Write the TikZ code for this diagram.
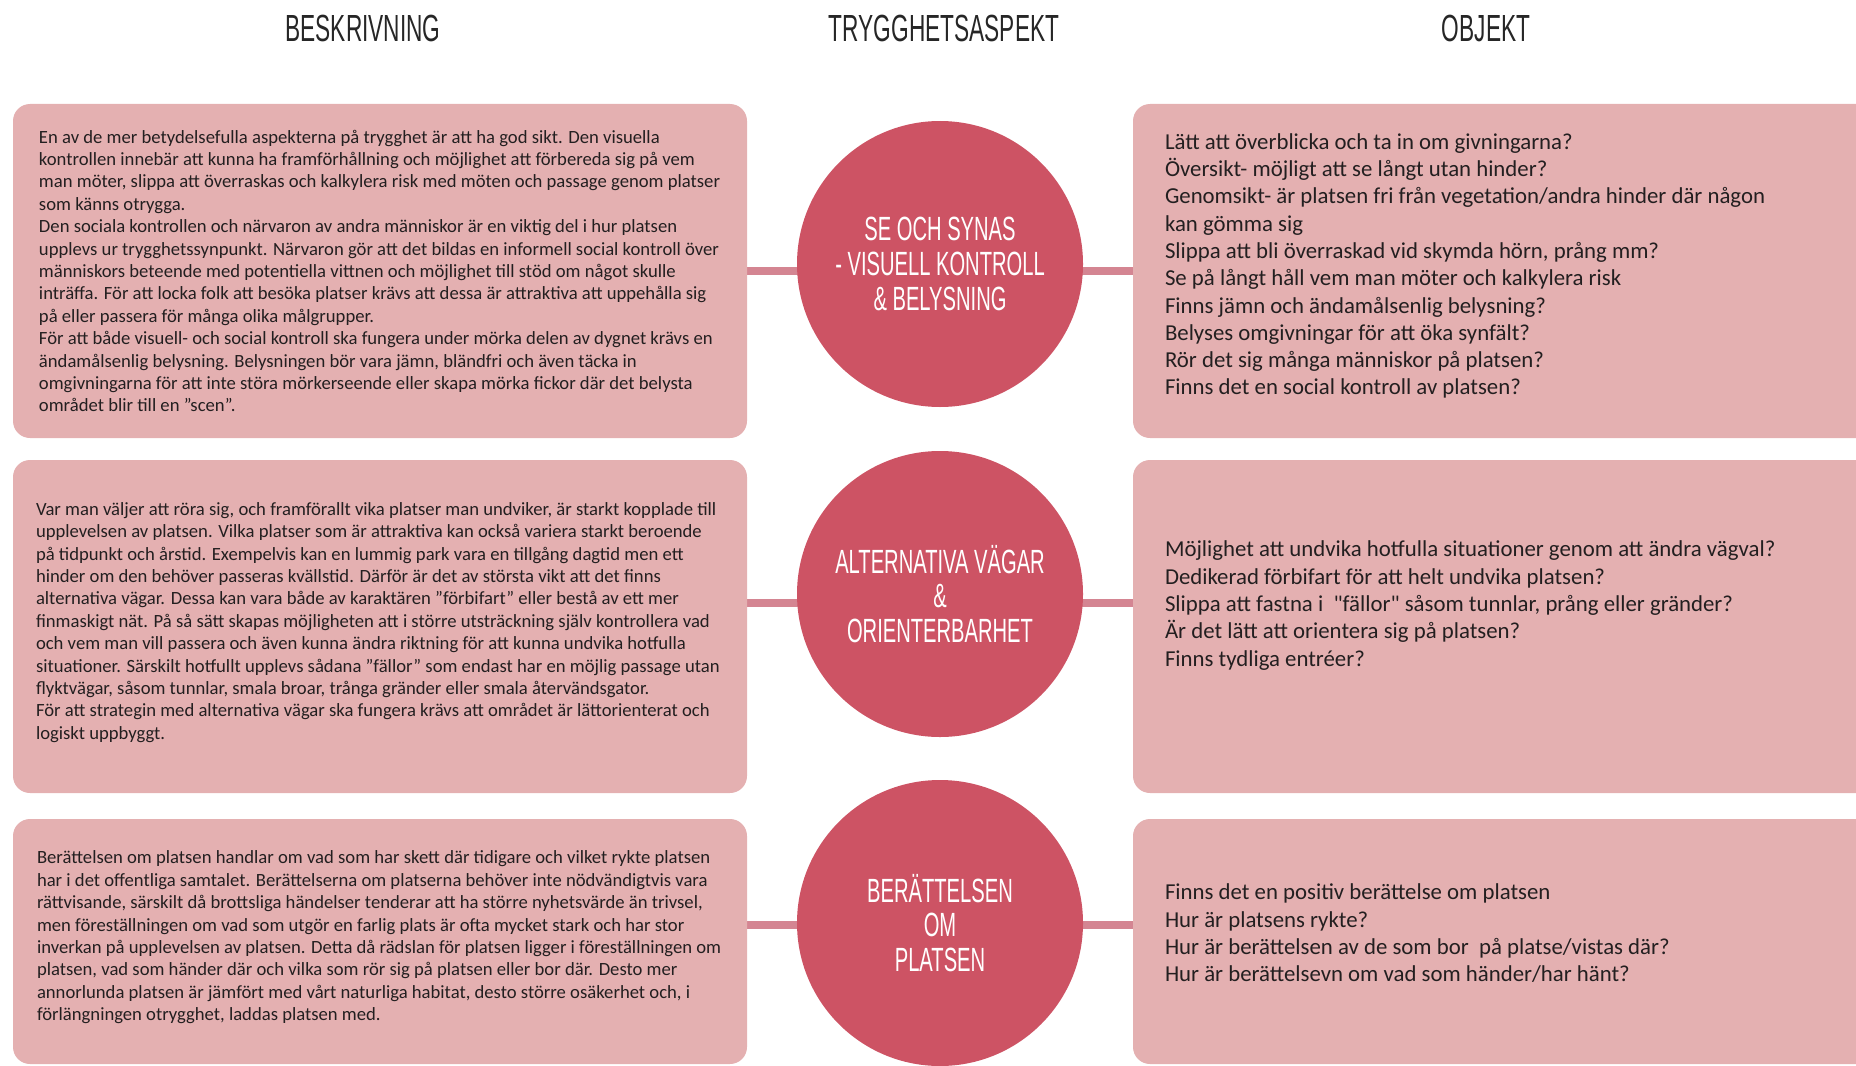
\documentclass[tikz,border=0pt]{standalone}
\usepackage{fontspec}
\setmainfont{Carlito}[Ligatures=TeXOff]
\newfontfamily\headfont[FakeStretch=0.6]{Liberation Sans}
\usetikzlibrary{backgrounds, calc}

\definecolor{boxpink}{HTML}{E4B0B1}
\definecolor{circred}{HTML}{CD5364}
\definecolor{linkpink}{HTML}{D48592}
\definecolor{textgray}{HTML}{231F20}

\tikzset{
	descbox/.style={rectangle, rounded corners=8.5pt, fill=boxpink, inner sep=0pt, minimum width=367pt},
	objbox/.style={rectangle, rounded corners=8.5pt, fill=boxpink, inner sep=0pt, minimum width=383.5pt},
	desctext/.style={anchor=west, align=left, inner sep=0pt, text=textgray, font=\fontsize{9.33}{11.2}\selectfont},
	objtext/.style={anchor=west, align=left, inner sep=0pt, text=textgray, font=\fontsize{11.4}{13.65}\selectfont},
	aspect/.style={circle, fill=circred, minimum size=143pt, inner sep=0pt, align=center, text=white, font=\headfont\fontsize{16.8}{17.3}\selectfont},
	header/.style={anchor=base, text=black!85, font=\headfont\fontsize{18.9}{20}\selectfont},
	link/.style={line width=4pt, draw=linkpink}
}

\begin{document}
\begin{tikzpicture}[x=0.5pt, y=-0.5pt]
		\useasboundingbox (0, 0) rectangle (1856, 1065);
		\clip (0, 0) rectangle (1856, 1065);
		% column headers
		\node [header] (hdesc) at (363, 42) {BESKRIVNING};
		\node [header] (haspect) at (944, 42) {TRYGGHETSASPEKT};
		\node [header] (hobj) at (1486, 42) {OBJEKT};
		% description boxes
		\node [descbox, minimum height=167pt] (desc1) at (380, 271) {};
		\node [descbox, minimum height=166.5pt] (desc2) at (380, 626.5) {};
		\node [descbox, minimum height=122.5pt] (desc3) at (380, 941.5) {};
		% object boxes, cut by the right edge
		\node [objbox, minimum height=167pt] (obj1) at (1516.5, 271) {};
		\node [objbox, minimum height=166.5pt] (obj2) at (1516.5, 626.5) {};
		\node [objbox, minimum height=122.5pt] (obj3) at (1516.5, 941.5) {};
		% the three aspects
		\node [aspect] (aspect1) at (940, 264) {SE OCH SYNAS\\- VISUELL KONTROLL\\\& BELYSNING};
		\node [aspect] (aspect2) at (940, 594) {ALTERNATIVA VÄGAR\\\&\\ORIENTERBARHET};
		\node [aspect] (aspect3) at (940, 923) {BERÄTTELSEN\\OM\\PLATSEN};
		% connectors behind the circles
		\begin{scope}[on background layer]
			\draw [link] ($(aspect1.center -| desc1.east)+(0, 7)$) -- ($(aspect1.center -| obj1.west)+(0, 7)$);
			\draw [link] ($(aspect2.center -| desc2.east)+(0, 9)$) -- ($(aspect2.center -| obj2.west)+(0, 9)$);
			\draw [link] ($(aspect3.center -| desc3.east)+(0, 2)$) -- ($(aspect3.center -| obj3.west)+(0, 2)$);
		\end{scope}
		% description texts
		\node [desctext] (desc1txt) at ([xshift=13pt]desc1.west) {En av de mer betydelsefulla aspekterna på trygghet är att ha god sikt. Den visuella\\
kontrollen innebär att kunna ha framförhållning och möjlighet att förbereda sig på vem\\
man möter, slippa att överraskas och kalkylera risk med möten och passage genom platser\\
som känns otrygga.\\
Den sociala kontrollen och närvaron av andra människor är en viktig del i hur platsen\\
upplevs ur trygghetssynpunkt. Närvaron gör att det bildas en informell social kontroll över\\
människors beteende med potentiella vittnen och möjlighet till stöd om något skulle\\
inträffa. För att locka folk att besöka platser krävs att dessa är attraktiva att uppehålla sig\\
på eller passera för många olika målgrupper.\\
För att både visuell- och social kontroll ska fungera under mörka delen av dygnet krävs en\\
ändamålsenlig belysning. Belysningen bör vara jämn, bländfri och även täcka in\\
omgivningarna för att inte störa mörkerseende eller skapa mörka fickor där det belysta\\
området blir till en ”scen”.};
		\node [desctext] (desc2txt) at ([xshift=11.5pt, yshift=2pt]desc2.west) {Var man väljer att röra sig, och framförallt vika platser man undviker, är starkt kopplade till\\
upplevelsen av platsen. Vilka platser som är attraktiva kan också variera starkt beroende\\
på tidpunkt och årstid. Exempelvis kan en lummig park vara en tillgång dagtid men ett\\
hinder om den behöver passeras kvällstid. Därför är det av största vikt att det finns\\
alternativa vägar. Dessa kan vara både av karaktären ”förbifart” eller bestå av ett mer\\
finmaskigt nät. På så sätt skapas möjligheten att i större utsträckning själv kontrollera vad\\
och vem man vill passera och även kunna ändra riktning för att kunna undvika hotfulla\\
situationer. Särskilt hotfullt upplevs sådana ”fällor” som endast har en möjlig passage utan\\
flyktvägar, såsom tunnlar, smala broar, trånga gränder eller smala återvändsgator.\\
För att strategin med alternativa vägar ska fungera krävs att området är lättorienterat och\\
logiskt uppbyggt.};
		\node [desctext] (desc3txt) at ([xshift=12pt, yshift=2pt]desc3.west) {Berättelsen om platsen handlar om vad som har skett där tidigare och vilket rykte platsen\\
har i det offentliga samtalet. Berättelserna om platserna behöver inte nödvändigtvis vara\\
rättvisande, särskilt då brottsliga händelser tenderar att ha större nyhetsvärde än trivsel,\\
men föreställningen om vad som utgör en farlig plats är ofta mycket stark och har stor\\
inverkan på upplevelsen av platsen. Detta då rädslan för platsen ligger i föreställningen om\\
platsen, vad som händer där och vilka som rör sig på platsen eller bor där. Desto mer\\
annorlunda platsen är jämfört med vårt naturliga habitat, desto större osäkerhet och, i\\
förlängningen otrygghet, laddas platsen med.};
		% object questions
		\node [objtext] (obj1txt) at ([xshift=16pt, yshift=2.5pt]obj1.west) {Lätt att överblicka och ta in om givningarna?\\
Översikt- möjligt att se långt utan hinder?\\
Genomsikt- är platsen fri från vegetation/andra hinder där någon\\
kan gömma sig\\
Slippa att bli överraskad vid skymda hörn, prång mm?\\
Se på långt håll vem man möter och kalkylera risk\\
Finns jämn och ändamålsenlig belysning?\\
Belyses omgivningar för att öka synfält?\\
Rör det sig många människor på platsen?\\
Finns det en social kontroll av platsen?};
		\node [objtext] (obj2txt) at ([xshift=16pt, yshift=10.5pt]obj2.west) {Möjlighet att undvika hotfulla situationer genom att ändra vägval?\\
Dedikerad förbifart för att helt undvika platsen?\\
Slippa att fastna i\ \ "fällor" såsom tunnlar, prång eller gränder?\\
Är det lätt att orientera sig på platsen?\\
Finns tydliga entréer?};
		\node [objtext] (obj3txt) at ([xshift=16pt, yshift=4pt]obj3.west) {Finns det en positiv berättelse om platsen\\
Hur är platsens rykte?\\
Hur är berättelsen av de som bor\ \ på platse/vistas där?\\
Hur är berättelsevn om vad som händer/har hänt?};
\end{tikzpicture}
\end{document}
